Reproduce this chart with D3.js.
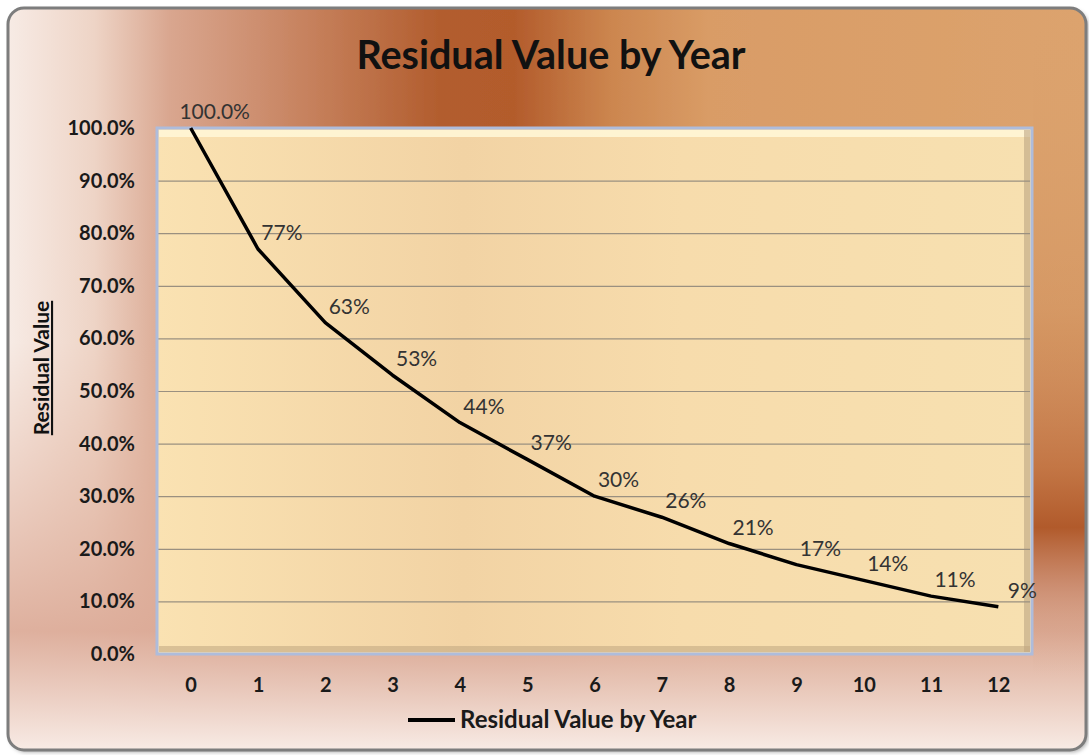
<!DOCTYPE html>
<html>
<head>
<meta charset="utf-8">
<script src="https://cdn.jsdelivr.net/npm/d3@7"></script>
<style>
  html, body { margin: 0; padding: 0; background: #fff; }
  svg { display: block; font-family: Lato, "Open Sans", sans-serif; }
</style>
</head>
<body>
<svg id="chart" width="1089" height="755"></svg>
<script>
// datos
const years = ["0", "1", "2", "3", "4", "5", "6", "7", "8", "9", "10", "11", "12"];
const residual = [100, 77, 63, 53, 44, 37, 30, 26, 21, 17, 14, 11, 9];
const yTicks = [0, 10, 20, 30, 40, 50, 60, 70, 80, 90, 100];
const title = "Residual Value by Year";
const yTitle = "Residual Value";

const svg = d3.select('#chart');
const plot = { x0: 157, x1: 1032, y0: 128, y1: 654 };

const defs = svg.append('defs');

// --- fondos ---
const hg = defs.append('linearGradient').attr('id', 'bgH')
  .attr('x1', '0%').attr('y1', '0%').attr('x2', '100%').attr('y2', '0%');
[[0, '#f7ebe5'], [0.08, '#eed4c6'], [0.15, '#d9a68f'], [0.3, '#c37b55'],
 [0.4, '#b25d2e'], [0.47, '#b35c2c'], [0.56, '#cc864f'], [0.65, '#d99c66'], [1, '#dca36e']]
  .forEach(([o, c]) => hg.append('stop').attr('offset', o).attr('stop-color', c));

const vg = defs.append('linearGradient').attr('id', 'bgV')
  .attr('x1', '0%').attr('y1', '0%').attr('x2', '0%').attr('y2', '100%');
[[0, '#e9c4b2', 0], [0.45, '#e4b9a5', 0], [0.84, '#dcab98', 0.92], [1, '#f8ebe5', 1]]
  .forEach(([o, c, a]) => vg.append('stop').attr('offset', o).attr('stop-color', c).attr('stop-opacity', a));

const rg = defs.append('linearGradient').attr('id', 'bgR')
  .attr('x1', '0%').attr('y1', '0%').attr('x2', '0%').attr('y2', '100%');
[[0, '#dca36e', 0], [0.4, '#d08f5c', 0.5], [0.62, '#c0703e', 0.9], [0.7, '#b15a2b', 1], [0.78, '#c8876a', 0.8], [0.9, '#e0b6a3', 0]]
  .forEach(([o, c, a]) => rg.append('stop').attr('offset', o).attr('stop-color', c).attr('stop-opacity', a));

const pg = defs.append('linearGradient').attr('id', 'plotBg')
  .attr('x1', '0%').attr('y1', '0%').attr('x2', '100%').attr('y2', '0%');
[[0, '#fae2b2'], [0.35, '#f2d3a4'], [0.6, '#f7dcac'], [1, '#f7e0b0']]
  .forEach(([o, c]) => pg.append('stop').attr('offset', o).attr('stop-color', c));

defs.append('clipPath').attr('id', 'frameClip')
  .append('rect').attr('x', 8).attr('y', 8).attr('width', 1078).attr('height', 742).attr('rx', 16);

const sh = defs.append('filter').attr('id', 'shadow').attr('x', '-5%').attr('y', '-5%').attr('width', '110%').attr('height', '110%');
sh.append('feDropShadow').attr('dx', 2).attr('dy', 2).attr('stdDeviation', 2).attr('flood-color', '#000').attr('flood-opacity', 0.35);

// marco exterior
svg.append('rect').attr('x', 8).attr('y', 8).attr('width', 1078).attr('height', 742).attr('rx', 16)
  .attr('fill', 'url(#bgH)').attr('filter', 'url(#shadow)');
const bgLayer = svg.append('g').attr('clip-path', 'url(#frameClip)');
bgLayer.append('rect').attr('x', 8).attr('y', 8).attr('width', 1078).attr('height', 742).attr('fill', 'url(#bgV)');
bgLayer.append('rect').attr('x', 1033).attr('y', 8).attr('width', 60).attr('height', 742).attr('fill', 'url(#bgR)');
svg.append('rect').attr('x', 8).attr('y', 8).attr('width', 1078).attr('height', 742).attr('rx', 16)
  .attr('fill', 'none').attr('stroke', '#7d7d7d').attr('stroke-width', 3);

// --- escalas ---
const x = d3.scalePoint().domain(years).range([plot.x0, plot.x1]).padding(0.5);
const y = d3.scaleLinear().domain([0, 100]).range([plot.y1, plot.y0]);

// área de trazado
svg.append('rect').attr('x', plot.x0).attr('y', plot.y0)
  .attr('width', plot.x1 - plot.x0).attr('height', plot.y1 - plot.y0)
  .attr('fill', 'url(#plotBg)');
// bisel
const bev = svg.append('g');
bev.append('rect').attr('x', plot.x0 + 2).attr('y', plot.y0 + 2).attr('width', plot.x1 - plot.x0 - 4).attr('height', 7)
  .attr('fill', '#fff6d6').attr('opacity', 0.9);
bev.append('rect').attr('x', plot.x1 - 8).attr('y', plot.y0 + 2).attr('width', 6).attr('height', plot.y1 - plot.y0 - 4)
  .attr('fill', '#b8a080').attr('opacity', 0.55);
bev.append('rect').attr('x', plot.x0 + 2).attr('y', plot.y1 - 8).attr('width', plot.x1 - plot.x0 - 4).attr('height', 6)
  .attr('fill', '#c0a680').attr('opacity', 0.55);

// rejilla
svg.append('g').selectAll('line')
  .data(yTicks.filter(d => d > 0 && d < 100))
  .join('line')
  .attr('x1', plot.x0).attr('x2', plot.x1 - 2)
  .attr('y1', d => y(d) + 0.5).attr('y2', d => y(d) + 0.5)
  .attr('stroke', '#9a9080').attr('stroke-width', 1.2);

svg.append('rect').attr('x', plot.x0).attr('y', plot.y0)
  .attr('width', plot.x1 - plot.x0).attr('height', plot.y1 - plot.y0)
  .attr('fill', 'none').attr('stroke', '#aebcdb').attr('stroke-width', 3);

// ejes
const yAxis = svg.append('g').attr('transform', `translate(${plot.x0},0)`)
  .call(d3.axisLeft(y).tickValues(yTicks).tickFormat(d => d.toFixed(1) + '%').tickSize(0).tickPadding(22));
yAxis.select('.domain').remove();
yAxis.selectAll('text').attr('font-size', 20).attr('font-weight', 700).attr('fill', '#1a1a1a')
  .attr('font-family', 'Lato, sans-serif');

const xAxis = svg.append('g').attr('transform', `translate(0,${plot.y1})`)
  .call(d3.axisBottom(x).tickSize(0).tickPadding(24));
xAxis.select('.domain').remove();
xAxis.selectAll('text').attr('font-size', 20).attr('font-weight', 700).attr('fill', '#1a1a1a')
  .attr('font-family', 'Lato, sans-serif');

// línea
const line = d3.line().x((d, i) => x(years[i])).y(d => y(d));
svg.append('path').datum(residual)
  .attr('d', line)
  .attr('fill', 'none').attr('stroke', '#000').attr('stroke-width', 3.5)
  .attr('stroke-linejoin', 'round');

// etiquetas de datos
svg.append('g').selectAll('text')
  .data(residual)
  .join('text')
  .attr('x', (d, i) => x(years[i]) + 24)
  .attr('y', d => y(d) - 9)
  .attr('text-anchor', 'middle')
  .attr('font-size', 21).attr('fill', '#333')
  .text((d, i) => i === 0 ? d.toFixed(1) + '%' : d + '%');

// título
svg.append('text').attr('x', 551).attr('y', 69).attr('text-anchor', 'middle')
  .attr('font-size', 39.5).attr('font-weight', 700).attr('fill', '#111')
  .text(title);

// título eje Y
svg.append('text').attr('transform', 'translate(49,368) rotate(-90)')
  .attr('text-anchor', 'middle').attr('font-size', 21).attr('font-weight', 700)
  .attr('fill', '#111').attr('text-decoration', 'underline')
  .text(yTitle);

// leyenda
svg.append('line').attr('x1', 408).attr('x2', 455).attr('y1', 720).attr('y2', 720)
  .attr('stroke', '#000').attr('stroke-width', 4);
svg.append('text').attr('x', 460).attr('y', 728).attr('font-size', 24).attr('font-weight', 700)
  .attr('fill', '#1a1a1a').text(title);
</script>
</body>
</html>
